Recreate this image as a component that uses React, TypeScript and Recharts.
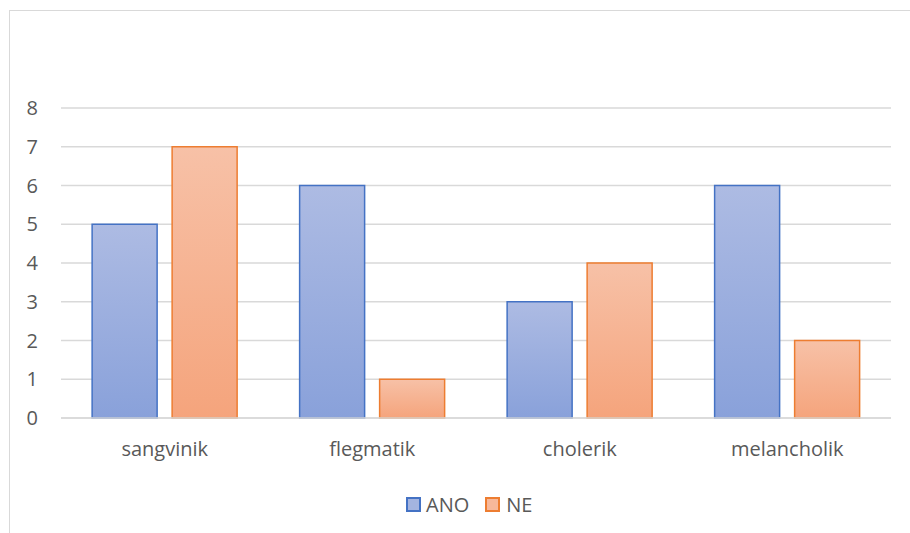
import React from 'react';
import { BarChart, Bar, XAxis, YAxis, CartesianGrid } from 'recharts';

const categories = ['sangvinik', 'flegmatik', 'cholerik', 'melancholik'];
const anoValues = [5, 6, 3, 6];
const neValues = [7, 1, 4, 2];
const yTicks = [0, 1, 2, 3, 4, 5, 6, 7, 8];
const seriesNames = ['ANO', 'NE'];

const data = categories.map((c, i) => ({ name: c, ANO: anoValues[i], NE: neValues[i] }));

const FONT = '"Open Sans", sans-serif';
const TEXT = '#595959';

const YTick = (props: any) => {
  const { y, payload } = props;
  return (
    <text x={38} y={y} dy={7} textAnchor="end" fontFamily={FONT} fontSize={20} fill={TEXT}>
      {payload.value}
    </text>
  );
};

const XTick = (props: any) => {
  const { x, payload } = props;
  return (
    <text x={x} y={456} textAnchor="middle" fontFamily={FONT} fontSize={20} fill={TEXT}>
      {payload.value}
    </text>
  );
};

const LegendBox = () => (
  <div style={{ position: 'absolute', left: 406, top: 490, height: 28, display: 'flex', alignItems: 'center', fontFamily: FONT, fontSize: 20, color: TEXT }}>
    <span style={{ display: 'inline-block', width: 11, height: 11, border: '2px solid #4472c4', background: '#a4b4e0', marginRight: 5 }} />
    <span style={{ marginRight: 16 }}>{seriesNames[0]}</span>
    <span style={{ display: 'inline-block', width: 11, height: 11, border: '2px solid #ed7d31', background: '#f7b89a', marginRight: 6 }} />
    <span>{seriesNames[1]}</span>
  </div>
);

export default function App() {
  return (
    <div style={{ position: 'absolute', left: 0, top: 0, width: 910, height: 533, overflow: 'hidden', background: '#fff' }}>
      <div style={{ position: 'absolute', left: 9, top: 10, width: 1000, height: 700, borderTop: '1px solid #d9d9d9', borderLeft: '1px solid #d9d9d9' }} />
      <div style={{ position: 'absolute', left: 0, top: 0 }}>
        <BarChart width={910} height={533} data={data} margin={{ top: 108, right: 19, bottom: 114, left: 0 }} barCategoryGap="15%" barGap={15}>
          <defs>
            <linearGradient id="gBlue" x1="0" y1="0" x2="0" y2="1">
              <stop offset="0%" stopColor="#adbbe3" />
              <stop offset="100%" stopColor="#89a1da" />
            </linearGradient>
            <linearGradient id="gOrange" x1="0" y1="0" x2="0" y2="1">
              <stop offset="0%" stopColor="#f7c1a7" />
              <stop offset="100%" stopColor="#f5a47c" />
            </linearGradient>
          </defs>
          <CartesianGrid vertical={false} stroke="#d9d9d9" strokeWidth={1.5} />
          <YAxis width={61} domain={[0, 8]} ticks={yTicks} axisLine={false} tickLine={false} tick={<YTick />} interval={0} />
          <XAxis dataKey="name" height={1} axisLine={{ stroke: '#d9d9d9', strokeWidth: 1.5 }} tickLine={false} tick={<XTick />} interval={0} />
          <Bar dataKey="ANO" fill="url(#gBlue)" stroke="#4472c4" strokeWidth={1.5} isAnimationActive={false} />
          <Bar dataKey="NE" fill="url(#gOrange)" stroke="#ed7d31" strokeWidth={1.5} isAnimationActive={false} />
        </BarChart>
      </div>
      <LegendBox />
    </div>
  );
}
